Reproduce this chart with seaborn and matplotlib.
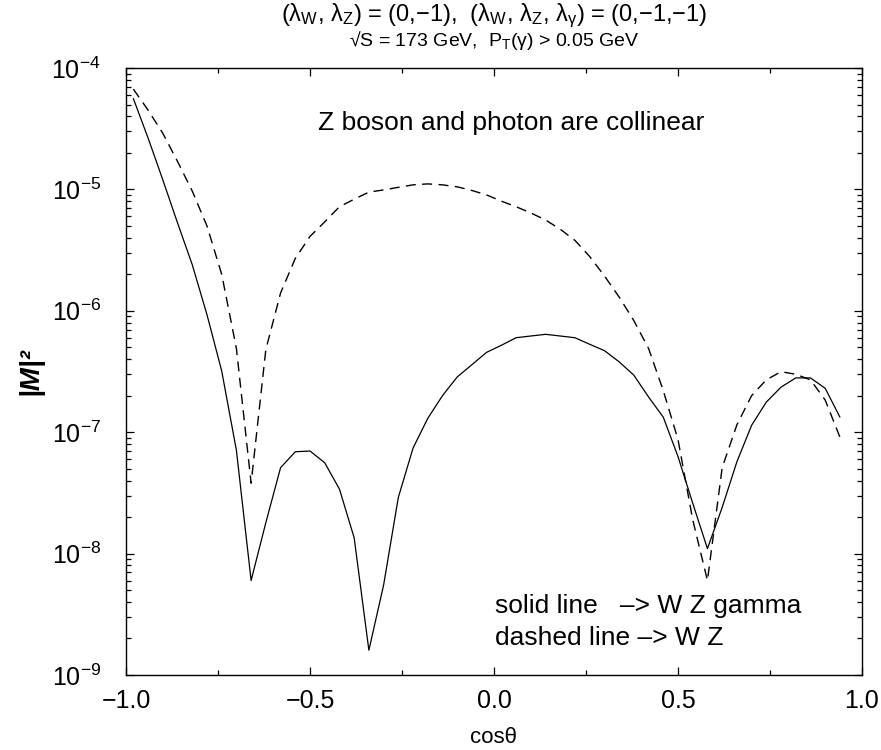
import numpy as np
import pandas as pd
import matplotlib
matplotlib.use("Agg")
import matplotlib.pyplot as plt
import seaborn as sns
from matplotlib.ticker import FixedLocator, LogLocator, NullFormatter, FixedFormatter

# ---------------- data ----------------
cos_theta = [-0.98, -0.94, -0.90, -0.86, -0.82, -0.78, -0.74, -0.70, -0.66, -0.62,
             -0.58, -0.54, -0.50, -0.46, -0.42, -0.38, -0.34, -0.30, -0.26, -0.22,
             -0.18, -0.14, -0.10, -0.06, -0.02, 0.02, 0.06, 0.10, 0.14, 0.18,
             0.22, 0.26, 0.30, 0.34, 0.38, 0.42, 0.46, 0.50, 0.54, 0.58,
             0.62, 0.66, 0.70, 0.74, 0.78, 0.82, 0.86, 0.90, 0.94]

wz_gamma = [5.6e-5, 2.65e-5, 1.2e-5, 5.3e-6, 2.4e-6, 9.3e-7, 3.2e-7, 7.1e-8, 6.0e-9, 1.8e-8,
            5.1e-8, 6.9e-8, 7.0e-8, 5.6e-8, 3.4e-8, 1.35e-8, 1.6e-9, 5.5e-9, 2.9e-8, 7.4e-8,
            1.3e-7, 2.0e-7, 2.85e-7, 3.6e-7, 4.55e-7, 5.2e-7, 6.0e-7, 6.2e-7, 6.4e-7, 6.2e-7,
            6.0e-7, 5.3e-7, 4.7e-7, 3.8e-7, 2.95e-7, 1.95e-7, 1.33e-7, 6.3e-8, 2.6e-8, 1.1e-8,
            2.4e-8, 5.7e-8, 1.14e-7, 1.77e-7, 2.35e-7, 2.8e-7, 2.8e-7, 2.3e-7, 1.33e-7]

wz = [6.7e-5, 4.5e-5, 2.9e-5, 1.7e-5, 9.7e-6, 5.0e-6, 2.0e-6, 4.9e-7, 3.8e-8, 4.8e-7,
      1.4e-6, 2.7e-6, 4.1e-6, 5.4e-6, 7.2e-6, 8.3e-6, 9.5e-6, 9.9e-6, 1.04e-5, 1.09e-5,
      1.11e-5, 1.09e-5, 1.05e-5, 9.8e-6, 9.0e-6, 8.0e-6, 7.2e-6, 6.4e-6, 5.6e-6, 4.7e-6,
      3.8e-6, 2.8e-6, 1.94e-6, 1.3e-6, 8.3e-7, 4.9e-7, 2.2e-7, 8.7e-8, 1.9e-8, 6.0e-9,
      5.1e-8, 1.15e-7, 2.0e-7, 2.7e-7, 3.15e-7, 3.0e-7, 2.7e-7, 1.84e-7, 9.1e-8]

x_ticks = [-1.0, -0.5, 0.0, 0.5, 1.0]
x_tick_labels = ["\u22121.0", "\u22120.5", "0.0", "0.5", "1.0"]
y_ticks = [1e-9, 1e-8, 1e-7, 1e-6, 1e-5, 1e-4]
y_tick_labels = [r"$10^{-9}$", r"$10^{-8}$", r"$10^{-7}$", r"$10^{-6}$", r"$10^{-5}$", r"$10^{-4}$"]

title_1 = "(λ$_{\\rm W}$, λ$_{\\rm Z}$) = (0,\u22121),  (λ$_{\\rm W}$, λ$_{\\rm Z}$, λ$_{\\gamma}$) = (0,\u22121,\u22121)"
title_2 = "\u221AS = 173 GeV,  P$_{\\rm T}$(γ) > 0.05 GeV"
note = "Z boson and photon are collinear"
legend_1 = "solid line   \u2013> W Z gamma"
legend_2 = "dashed line \u2013> W Z"

# ---------------- style ----------------
sns.set_theme(style="ticks")
plt.rcParams["font.family"] = ["Liberation Sans", "DejaVu Sans"]
plt.rcParams["mathtext.fontset"] = "custom"
plt.rcParams["mathtext.rm"] = "Liberation Sans"
plt.rcParams["mathtext.it"] = "Liberation Sans:italic"
plt.rcParams["mathtext.bf"] = "Liberation Sans:bold"
plt.rcParams["mathtext.default"] = "regular"
for key in ["text.color", "axes.labelcolor", "xtick.color", "ytick.color", "axes.edgecolor"]:
    plt.rcParams[key] = "black"

fig = plt.figure(figsize=(8.81, 7.5), dpi=100)
ax = fig.add_axes([126 / 881, 1 - 675 / 750, (862 - 126) / 881, (675 - 68) / 750])

df_solid = pd.DataFrame({"cos": cos_theta, "M2": wz_gamma})
df_dash = pd.DataFrame({"cos": cos_theta, "M2": wz})

sns.lineplot(data=df_solid, x="cos", y="M2", ax=ax, color="black", lw=0.9, estimator=None)
sns.lineplot(data=df_dash, x="cos", y="M2", ax=ax, color="black", lw=1.0, estimator=None,
             linestyle=(0, (7.2, 4.6)))

ax.set_yscale("log")
ax.set_xlim(-1.0, 1.0)
ax.set_ylim(1e-9, 1e-4)

ax.xaxis.set_major_locator(FixedLocator(x_ticks))
ax.xaxis.set_major_formatter(FixedFormatter(x_tick_labels))
ax.xaxis.set_minor_locator(FixedLocator([-0.75, -0.25, 0.25, 0.75]))
ax.yaxis.set_major_locator(FixedLocator(y_ticks))
ax.yaxis.set_major_formatter(FixedFormatter(y_tick_labels))
ax.yaxis.set_minor_locator(LogLocator(base=10, subs=np.arange(2, 10), numticks=20))
ax.yaxis.set_minor_formatter(NullFormatter())

ax.tick_params(which="both", direction="in", top=True, right=True, color="black",
               labelcolor="black", width=0.9)
ax.tick_params(which="major", length=6)
ax.tick_params(which="minor", length=3.5)
ax.tick_params(axis="x", which="major", labelsize=18, pad=10)
ax.tick_params(axis="y", which="major", labelsize=18, pad=18)
for s in ax.spines.values():
    s.set_linewidth(1.0)
    s.set_color("black")

ax.set_xlabel("cosθ", fontsize=16, labelpad=10, color="black")
ax.set_ylabel("|M|²", fontsize=20, fontweight="bold", fontstyle="italic", labelpad=6,
              color="black")

cx = (126 + 862) / 2 / 881
fig.text(cx, 1 - 16 / 750, title_1, ha="center", va="center", fontsize=17, color="black")
fig.text(cx, 1 - 41 / 750, title_2, ha="center", va="center", fontsize=14, color="black")

ax.text(318 / 881, 1 - 130 / 750, note, transform=fig.transFigure, fontsize=19,
        ha="left", va="baseline", color="black")
ax.text(495 / 881, 1 - 613 / 750, legend_1, transform=fig.transFigure, fontsize=19,
        ha="left", va="baseline", color="black")
ax.text(495 / 881, 1 - 645 / 750, legend_2, transform=fig.transFigure, fontsize=19,
        ha="left", va="baseline", color="black")

fig.savefig("out.png", dpi=100)
